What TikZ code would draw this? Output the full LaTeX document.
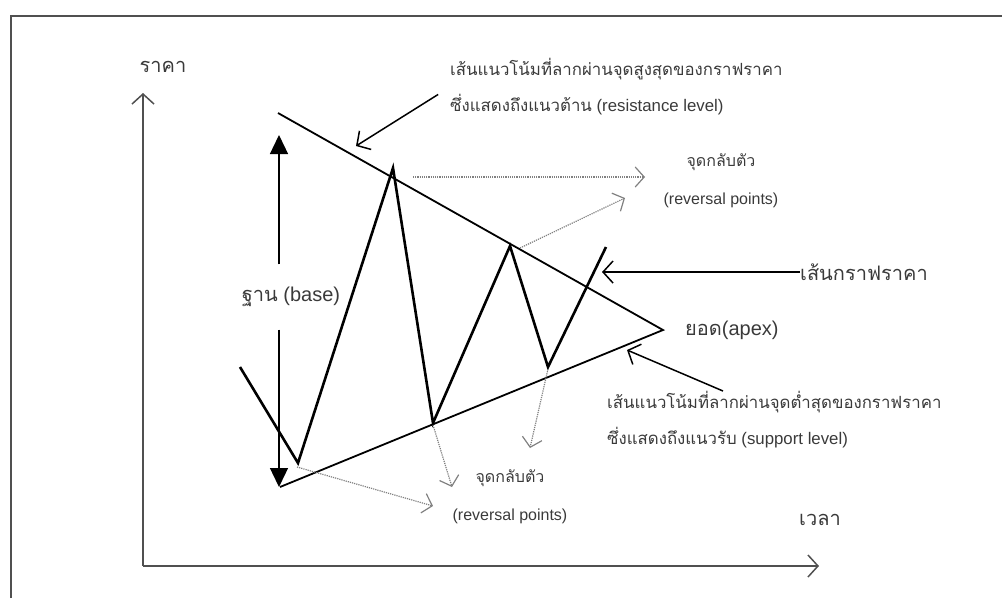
\documentclass[tikz,border=0pt]{standalone}
\usepackage{fontspec}
\setmainfont{Liberation Sans}
\newfontfamily\thaifont[Script=Thai]{Loma}
\usetikzlibrary{arrows.meta}
\definecolor{inkgray}{HTML}{3A3A3A}
\definecolor{axisgray}{HTML}{505050}
\definecolor{dotgray}{HTML}{808080}
\newcommand\tht[1]{{\thaifont #1}}

\begin{document}
\begin{tikzpicture}[x=1pt,y=-1pt,
    lbl/.style={text=inkgray,inner sep=0pt},
    note/.style={lbl,align=left,font=\fontsize{16.8}{36}\selectfont},
    revlbl/.style={lbl,align=center,font=\fontsize{16}{38}\selectfont},
    biglbl/.style={lbl,font=\fontsize{20}{24}\selectfont},
    axis/.style={axisgray,line width=1.5pt,-{Straight Barb[length=10pt,width=22pt]}},
    trend/.style={line width=1.8pt},
    price/.style={line width=2.6pt,line join=miter},
    ptr/.style={line width=1.5pt,-{Straight Barb[length=10pt,width=22pt]}},
    dotarrow/.style={dotgray,line width=1.2pt,densely dotted,-{Straight Barb[length=9pt,width=20pt]}},
    basearrow/.style={line width=1.3pt,-{Triangle[length=19pt,width=18pt]}}]
  \useasboundingbox (0,0) rectangle (1002,598);
  % frame
  \draw[axisgray,line width=2pt] (11,598) -- (11,16) -- (1002,16);

  % axes
  \coordinate (o) at (143,566);
  \coordinate (ytip) at (143,93);
  \coordinate (xtip) at (819,566);
  \draw[axis] (o) -- (ytip);
  \draw[axis] (o) -- (xtip);
  \node[biglbl] (ylab) at (163,67) {\tht{ราคา}};
  \node[biglbl] (xlab) at (820,520) {\tht{เวลา}};

  % triangle
  \coordinate (rs) at (278,113);
  \coordinate (ss) at (280,487);
  \coordinate (apex) at (663,330);
  \draw[trend] (rs) -- (apex) -- (ss);

  % price line
  \coordinate (p0) at (240,367);
  \coordinate (p1) at (298,463);
  \coordinate (p2) at (393,168);
  \coordinate (p3) at (433,423);
  \coordinate (p4) at (510,246);
  \coordinate (p5) at (548,367);
  \coordinate (p6) at (606,247);
  \draw[price] (p0) -- (p1) -- (p2) -- (p3) -- (p4) -- (p5) -- (p6);

  % base
  \coordinate (btop) at (279,135);
  \coordinate (bbot) at (279,487);
  \node[biglbl,minimum height=65pt] (base) at (291,297) {\tht{ฐาน} (base)};
  \draw[basearrow] (base.north -| btop) -- (btop);
  \draw[basearrow] (base.south -| btop) -- (bbot);

  % resistance note
  \node[note,anchor=west] (restxt) at (450,87)
    {\tht{เส้นแนวโน้มที่ลากผ่านจุดสูงสุดของกราฟราคา}\\
     \tht{ซึ่งแสดงถึงแนวต้าน} (resistance level)};
  \coordinate (rtip) at (356,146);
  \draw[ptr,shorten <=14pt] (restxt.west) -- (rtip);

  % support note
  \node[note,anchor=north west] (suptxt) at (607,391)
    {\tht{เส้นแนวโน้มที่ลากผ่านจุดต่ำสุดของกราฟราคา}\\
     \tht{ซึ่งแสดงถึงแนวรับ} (support level)};
  \coordinate (sfrom) at ([xshift=116pt]suptxt.north west);
  \coordinate (stip) at (627,350);
  \draw[ptr] (sfrom) -- (stip);

  % price note
  \node[biglbl,anchor=west] (pricetxt) at (800,272) {\tht{เส้นกราฟราคา}};
  \coordinate (ptip) at (602,272);
  \draw[ptr] (pricetxt.west) -- (ptip);

  % apex
  \node[biglbl,anchor=west] (apextxt) at (685,330) {\tht{ยอด}(apex)};

  % reversal points
  \node[revlbl] (revup) at (721,181) {\tht{จุดกลับตัว}\\(reversal points)};
  \node[revlbl] (revlow) at (510,497) {\tht{จุดกลับตัว}\\(reversal points)};
  \coordinate (d1s) at (413,177);
  \coordinate (d1e) at (645,177);
  \coordinate (d2s) at (520,248);
  \coordinate (d2e) at (625,198);
  \coordinate (d3s) at (297,467);
  \coordinate (d3e) at (433,506);
  \coordinate (d4s) at (433,425);
  \coordinate (d4e) at (452,487);
  \coordinate (d5s) at (548,369);
  \coordinate (d5e) at (530,448);
  \foreach \i in {1,...,5}
    \draw[dotarrow] (d\i s) -- (d\i e);
\end{tikzpicture}
\end{document}
